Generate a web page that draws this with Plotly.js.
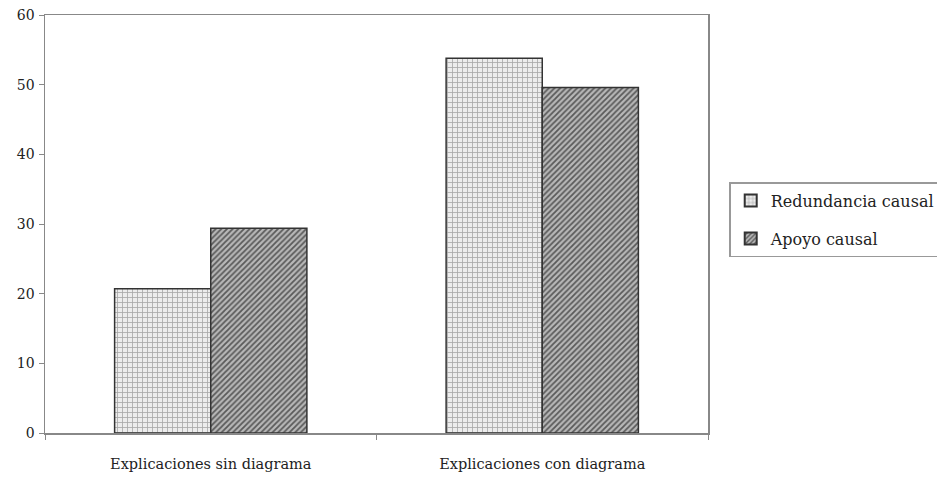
<!DOCTYPE html>
<html>
<head>
<meta charset="utf-8">
<script src="https://cdn.plot.ly/plotly-3.0.1.min.js"></script>
<style>html,body{margin:0;padding:0;background:#fff;}#chart{width:937px;height:477px;}</style>
</head>
<body>
<div id="chart"></div>
<script>
const categories = ["Explicaciones sin diagrama", "Explicaciones con diagrama"];
const seriesNames = ["Redundancia causal", "Apoyo causal"];
const redundancia = [20.7, 53.8];
const apoyo = [29.4, 49.6];
const yTicks = [0, 10, 20, 30, 40, 50, 60];

const serif = "DejaVu Serif, Liberation Serif, serif";

const traces = [
  {
    type: "bar", name: seriesNames[0], x: categories, y: redundancia,
    legendgroup: "a",
    marker: {
      color: "#e4e4e4",
      line: {color: "#333", width: 1.5},
      pattern: {shape: "+", fgcolor: "#a8a8a8", bgcolor: "#ededed", size: 5, solidity: 0.3, fillmode: "replace"}
    },
    hoverinfo: "skip"
  },
  {
    type: "bar", name: seriesNames[1], x: categories, y: apoyo,
    legendgroup: "b",
    marker: {
      color: "#888",
      line: {color: "#333", width: 1.5},
      pattern: {shape: "/", fgcolor: "#5a5a5a", bgcolor: "#b8b8b8", size: 4, solidity: 0.45, fillmode: "replace"}
    },
    hoverinfo: "skip"
  }
];

const layout = {
  width: 937, height: 477,
  margin: {l: 45, r: 229, t: 15, b: 44, autoexpand: false},
  paper_bgcolor: "#fff", plot_bgcolor: "#fff",
  barmode: "group",
  bargap: 0.42, bargroupgap: 0,
  font: {family: serif, color: "#222", size: 14},
  xaxis: {
    showline: true, linecolor: "#888", linewidth: 1.5, mirror: true,
    ticks: "outside", ticklen: 5, tickcolor: "#888", tickson: "boundaries",
    tickfont: {family: serif, size: 14.5, color: "#222"},
    ticklabelstandoff: 17,
    showgrid: false, zeroline: false
  },
  yaxis: {
    range: [0, 60], tickvals: yTicks, ticktext: yTicks.map(String),
    showline: true, linecolor: "#888", linewidth: 1.5, mirror: true,
    ticks: "outside", ticklen: 5, tickcolor: "#888",
    tickfont: {family: serif, size: 14, color: "#222"},
    ticklabelstandoff: 1,
    showgrid: false, zeroline: false
  },
  showlegend: true,
  legend: {
    x: 1.032, xanchor: "left", y: 0.6, yanchor: "top",
    bordercolor: "#999", borderwidth: 1.5, bgcolor: "#fff",
    font: {family: serif, size: 16, color: "#222"},
    traceorder: "grouped", tracegroupgap: 14,
    itemsizing: "constant", itemwidth: 30
  }
};

Plotly.newPlot("chart", traces, layout, {displayModeBar: false, staticPlot: true});
</script>
</body>
</html>
